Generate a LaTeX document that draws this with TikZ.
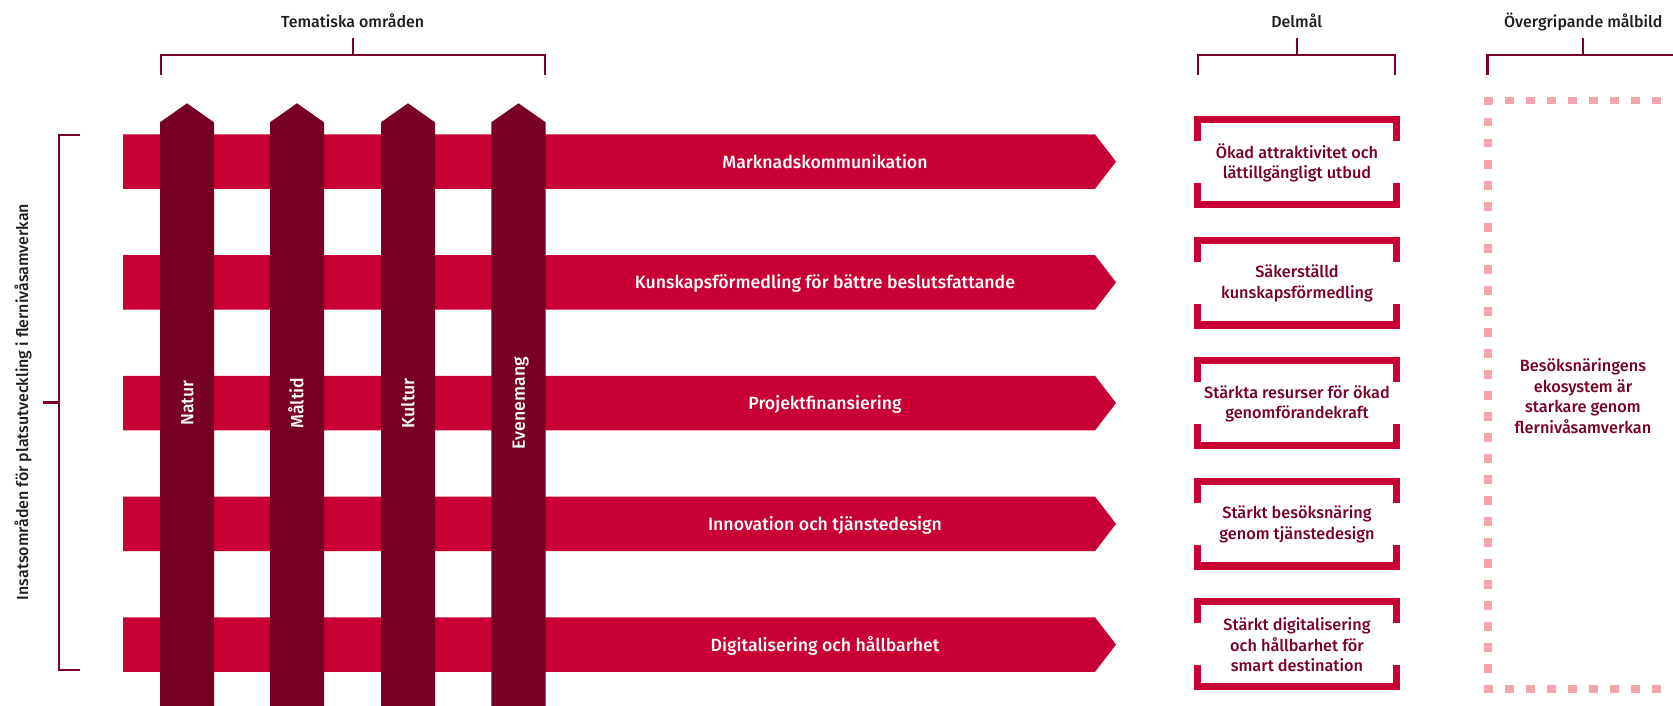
\documentclass[tikz,border=0pt]{standalone}
\usepackage{fontspec}
\setmainfont{Fira Sans}
\newfontfamily\firamed{Fira Sans Medium}
\usepackage{xcolor}

\definecolor{crimson}{RGB}{200,0,52}
\definecolor{maroon}{RGB}{120,0,35}
\definecolor{pinkdash}{RGB}{243,166,172}
\definecolor{ink}{RGB}{30,30,30}

\begin{document}
\begin{tikzpicture}[x=1pt,y=1pt]
	\tikzstyle{every node}+=[inner sep=0pt]
	\tikzstyle{heading}=[font=\firamed\fontsize{16}{20}\selectfont, text=ink, anchor=base]
	\tikzstyle{bandlabel}=[font=\firamed\fontsize{17.7}{22}\selectfont, text=white, anchor=base]
	\tikzstyle{goaltext}=[font=\firamed\fontsize{16.3}{20.5}\selectfont, text=maroon, align=center]
	\tikzstyle{frame}=[crimson, line width=7.3pt, line cap=butt, line join=miter]
	\tikzstyle{brace}=[maroon, line width=2.2pt]
	\tikzstyle{dashframe}=[pinkdash, line width=7.3pt, dash pattern=on 8.5pt off 12.5pt]
	\useasboundingbox (0,0) rectangle (1673,-706);
	\clip (0,0) rectangle (1673,-706);
	\fill [crimson] (123,-134.3) -- (1095,-134.3) -- (1116,-161.6) -- (1095,-188.9) -- (123,-188.9) -- cycle;
	\fill [crimson] (123,-255.1) -- (1095,-255.1) -- (1116,-282.4) -- (1095,-309.7) -- (123,-309.7) -- cycle;
	\fill [crimson] (123,-375.8) -- (1095,-375.8) -- (1116,-403.1) -- (1095,-430.4) -- (123,-430.4) -- cycle;
	\fill [crimson] (123,-496.6) -- (1095,-496.6) -- (1116,-523.9) -- (1095,-551.2) -- (123,-551.2) -- cycle;
	\fill [crimson] (123,-617.3) -- (1095,-617.3) -- (1116,-644.6) -- (1095,-671.9) -- (123,-671.9) -- cycle;
	\node [bandlabel] (mk) at (825,-168) {Marknadskommunikation};
	\node [bandlabel] (kf) at (825,-288.8) {Kunskapsförmedling för bättre beslutsfattande};
	\node [bandlabel] (pf) at (825,-409.5) {Projektfinansiering};
	\node [bandlabel] (it) at (825,-530.3) {Innovation och tjänstedesign};
	\node [bandlabel] (dh) at (825,-651) {Digitalisering och hållbarhet};
	\fill [maroon] (160,-710) -- (160,-122.3) -- (187,-103.3) -- (214,-122.3) -- (214,-710) -- cycle;
	\fill [maroon] (270,-710) -- (270,-122.3) -- (297,-103.3) -- (324,-122.3) -- (324,-710) -- cycle;
	\fill [maroon] (381,-710) -- (381,-122.3) -- (408,-103.3) -- (435,-122.3) -- (435,-710) -- cycle;
	\fill [maroon] (491.3,-710) -- (491.3,-122.3) -- (518.5,-103.3) -- (545.7,-122.3) -- (545.7,-710) -- cycle;
	\node [bandlabel, rotate=90] (natur) at (193.4,-403.1) {Natur};
	\node [bandlabel, rotate=90] (maltid) at (303.4,-403.1) {Måltid};
	\node [bandlabel, rotate=90] (kultur) at (414.4,-403.1) {Kultur};
	\node [bandlabel, rotate=90] (evenemang) at (524.9,-403.1) {Evenemang};
	\node [heading] (tema) at (352.7,-27.3) {Tematiska områden};
	\draw [brace] (160.7,-75) -- (160.7,-55) -- (544.6,-55) -- (544.6,-75);
	\draw [brace] (352.7,-55) -- (352.7,-37.7);
	\node [heading] (delmal) at (1296.7,-27.3) {Delmål};
	\draw [brace] (1198.3,-75) -- (1198.3,-55) -- (1395,-55) -- (1395,-75);
	\draw [brace] (1296.7,-55) -- (1296.7,-37.7);
	\node [heading] (malbild) at (1583.3,-27.3) {Övergripande målbild};
	\draw [brace] (1487.5,-75) -- (1487.5,-55) -- (1690,-55);
	\draw [brace] (1583.3,-55) -- (1583.3,-37.7);
	\node [heading, rotate=90] (insats) at (28,-402) {Insatsområden för platsutveckling i flernivåsamverkan};
	\draw [brace] (80,-135) -- (59.3,-135) -- (59.3,-670.3) -- (80,-670.3);
	\draw [brace] (59.3,-402.5) -- (43,-402.5);
	\node [goaltext] (g1) at (1297,-163) {Ökad attraktivitet och\\lättillgängligt utbud};
	\draw [frame] (1197.65,-141) -- (1197.65,-119.65) -- (1396.35,-119.65) -- (1396.35,-141);
	\draw [frame] (1197.65,-183) -- (1197.65,-204.35) -- (1396.35,-204.35) -- (1396.35,-183);
	\node [goaltext] (g2) at (1297,-283.5) {Säkerställd\\kunskapsförmedling};
	\draw [frame] (1197.65,-261.5) -- (1197.65,-240.15) -- (1396.35,-240.15) -- (1396.35,-261.5);
	\draw [frame] (1197.65,-303.5) -- (1197.65,-324.85) -- (1396.35,-324.85) -- (1396.35,-303.5);
	\node [goaltext] (g3) at (1297,-404) {Stärkta resurser för ökad\\genomförandekraft};
	\draw [frame] (1197.65,-382) -- (1197.65,-360.65) -- (1396.35,-360.65) -- (1396.35,-382);
	\draw [frame] (1197.65,-424) -- (1197.65,-445.35) -- (1396.35,-445.35) -- (1396.35,-424);
	\node [goaltext] (g4) at (1297,-524.5) {Stärkt besöksnäring\\genom tjänstedesign};
	\draw [frame] (1197.65,-502.5) -- (1197.65,-481.15) -- (1396.35,-481.15) -- (1396.35,-502.5);
	\draw [frame] (1197.65,-544.5) -- (1197.65,-565.85) -- (1396.35,-565.85) -- (1396.35,-544.5);
	\node [goaltext] (g5) at (1297,-645) {Stärkt digitalisering\\och hållbarhet för\\smart destination};
	\draw [frame] (1197.65,-623) -- (1197.65,-601.65) -- (1396.35,-601.65) -- (1396.35,-623);
	\draw [frame] (1197.65,-665) -- (1197.65,-686.35) -- (1396.35,-686.35) -- (1396.35,-665);
	\draw [dashframe] (1488,-97) -- (1488,-693);
	\draw [dashframe] (1484.4,-100.5) -- (1690,-100.5);
	\draw [dashframe] (1484.4,-689) -- (1690,-689);
	\node [goaltext] (vision) at (1583,-396) {Besöksnäringens\\ekosystem är\\starkare genom\\flernivåsamverkan};
\end{tikzpicture}
\end{document}
